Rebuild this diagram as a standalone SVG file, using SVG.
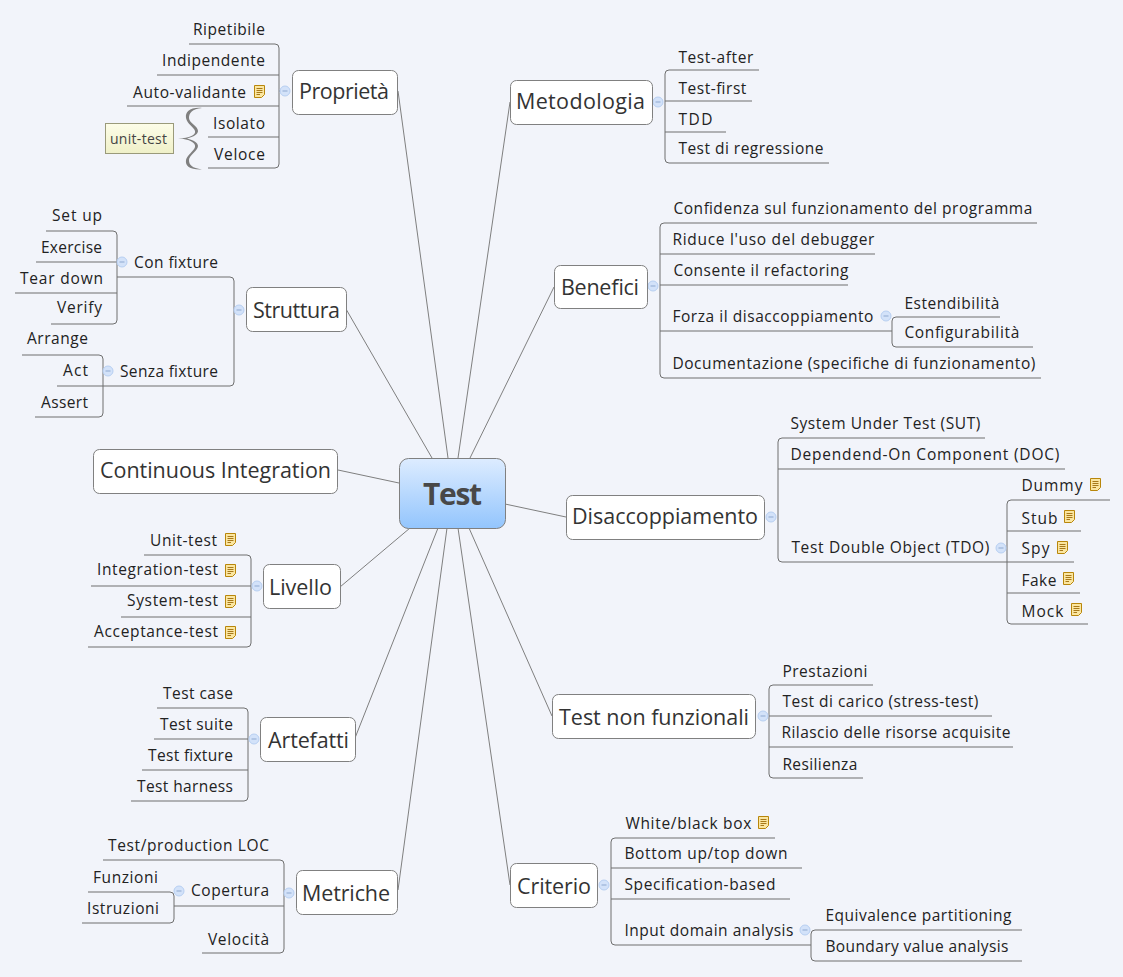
<svg xmlns="http://www.w3.org/2000/svg" width="1123" height="977" viewBox="0 0 1123 977">
<style>
text{font-family:"Open Sans","Noto Sans","Liberation Sans",sans-serif;fill:#222;font-size:15.5px}
.n rect{fill:#fff;stroke:#808080;stroke-width:1}
.n text{font-size:21.5px;fill:#333}
.c path{fill:none;stroke:#7f7f7f;stroke-width:1}
.s path{fill:none;stroke:#6f6f6f;stroke-width:1}
</style>
<defs>
<linearGradient id="rg" x1="0" y1="0" x2="0" y2="1"><stop offset="0" stop-color="#ddecff"/><stop offset="1" stop-color="#93c5fd"/></linearGradient>
<linearGradient id="yg" x1="0" y1="0" x2="0" y2="1"><stop offset="0" stop-color="#fdfde8"/><stop offset="1" stop-color="#eff0c8"/></linearGradient>
<g id="note"><path d="M.5.5H10.500V9.500L7.500 12.500H.5Z" fill="#fbe6a0" stroke="#b8860b"/><path d="M2.500 3.500H8.500M2.500 5.500H8.500M2.500 7.500H8.500M2.500 9.500H6" stroke="#a8791a" fill="none"/></g>
<g id="col"><circle r="5" fill="#d3e2f9" stroke="#b7cff2"/><path d="M-2.500 0H2.500" stroke="#8fa9d0"/></g>
</defs>
<rect width="1123" height="977" fill="#f2f4fa"/>
<g id="connectors" class="c">
<path d="M398 91L448 458M346 309L432 458M338 470L399 483M340 587L410 528M355 738L438 528M398 890L447 528M510 102L458 458M554 287L470 458M566 517L505 504M552 716L469 528M510 885L458 528"/>
</g>
<g id="subtopics" class="s">
<path d="M189 44H275Q279 44 279 48V164Q279 168 275 168H208M157 75H279M127 106H279M208 137H279M279 91H285"/>
<path d="M759 70H669Q665 70 665 74V159Q665 163 669 163H829M752 101H665M726 132H665"/>
<path d="M1037 223H664Q660 223 660 227V374Q660 378 664 378H1041M875 254H660M848 285H660M892 331H660"/>
<path d="M1000 317H896Q892 317 892 321V343Q892 347 896 347H1033"/>
<path d="M985 438H782Q778 438 778 442V558Q778 562 782 562H1007M1065 469H778"/>
<path d="M1110 500H1011Q1007 500 1007 504V620Q1007 624 1011 624H1088M1081 531H1007M1074 562H1007M1080 593H1007"/>
<path d="M873 685H773Q769 685 769 689V774Q769 778 773 778H863M992 716H769M1013 747H769"/>
<path d="M775 838H615Q611 838 611 842V941Q611 945 615 945H811M802 868H611M790 899H611"/>
<path d="M1022 930H815Q811 930 811 934V957Q811 961 815 961H1022"/>
<path d="M117 277H230Q234 277 234 281V382Q234 386 230 386H103"/>
<path d="M46 231H113Q117 231 117 235V320Q117 324 113 324H51M36 262H117M15 293H117"/>
<path d="M22 355H99Q103 355 103 359V413Q103 417 99 417H35M57 386H103"/>
<path d="M144 555H247Q251 555 251 559V643Q251 647 247 647H88M91 586H251M121 617H251"/>
<path d="M157 708H244Q248 708 248 712V797Q248 801 244 801H131M154 739H248M142 770H248"/>
<path d="M103 860H280Q284 860 284 864V949Q284 953 280 953H202M174 906H284"/>
<path d="M88 892H170Q174 892 174 896V919Q174 923 170 923H82"/>
</g>
<g id="toggles">
<use href="#col" x="285" y="91"/><use href="#col" x="658" y="102"/><use href="#col" x="653" y="286"/><use href="#col" x="886" y="316"/><use href="#col" x="771" y="517"/><use href="#col" x="1001" y="548"/><use href="#col" x="763" y="716"/><use href="#col" x="604" y="885"/><use href="#col" x="805" y="930"/><use href="#col" x="239" y="310"/><use href="#col" x="122" y="262"/><use href="#col" x="108" y="371"/><use href="#col" x="257" y="586"/><use href="#col" x="254" y="739"/><use href="#col" x="289" y="893"/><use href="#col" x="179" y="891"/>
</g>
<g id="notes">
<use href="#note" x="254" y="85"/><use href="#note" x="1090" y="478"/><use href="#note" x="1064" y="510"/><use href="#note" x="1057" y="541"/><use href="#note" x="1063" y="572"/><use href="#note" x="1071" y="603"/><use href="#note" x="225" y="533"/><use href="#note" x="225" y="564"/><use href="#note" x="225" y="595"/><use href="#note" x="225" y="626"/><use href="#note" x="758" y="816"/>
</g>
<g id="brace"><path d="M202 108C190 107 185 112 186 118C187 124 194 127 195 131C196 135 190 138 178 138.500C190 139 196 143 195 147C194 151 187 155 186 160C185 166 190 170 202 169.500C192 168 189 165 189 160C189 155 198 151 198 146C198 143 194 140 187 138.500C194 137 198 134 198 131C198 126 189 123 189 118C189 113 192 109 202 108Z" fill="#808080"/></g>
<g id="root" class="n"><rect x="399.500" y="458.500" width="106" height="70" rx="9" style="fill:url(#rg)"/><text x="423" y="505" textLength="59" style="font-size:30px;font-weight:700;fill:#484848">Test</text></g>
<g id="proprieta" class="n"><rect x="292.500" y="70.500" width="105" height="44" rx="6"/><text x="299" y="99" textLength="90">Proprietà</text></g>
<g id="metodologia" class="n"><rect x="510.500" y="80.500" width="142" height="44" rx="6"/><text x="516" y="109" textLength="129">Metodologia</text></g>
<g id="benefici" class="n"><rect x="554.500" y="265.500" width="93" height="43" rx="6"/><text x="561" y="295" textLength="78">Benefici</text></g>
<g id="struttura" class="n"><rect x="246.500" y="287.500" width="100" height="44" rx="6"/><text x="253" y="318" textLength="87">Struttura</text></g>
<g id="ci" class="n"><rect x="93.500" y="449.500" width="244" height="44" rx="6"/><text x="100" y="478" textLength="231">Continuous Integration</text></g>
<g id="livello" class="n"><rect x="263.500" y="564.500" width="77" height="44" rx="6"/><text x="269" y="595" textLength="63">Livello</text></g>
<g id="artefatti" class="n"><rect x="260.500" y="717.500" width="95" height="44" rx="6"/><text x="268" y="748" textLength="81">Artefatti</text></g>
<g id="metriche" class="n"><rect x="296.500" y="870.500" width="101" height="44" rx="6"/><text x="302" y="901" textLength="88">Metriche</text></g>
<g id="disaccoppiamento" class="n"><rect x="566.500" y="495.500" width="198" height="44" rx="6"/><text x="572" y="524" textLength="186">Disaccoppiamento</text></g>
<g id="nonfunz" class="n"><rect x="552.500" y="694.500" width="203" height="44" rx="6"/><text x="559" y="725" textLength="190">Test non funzionali</text></g>
<g id="criterio" class="n"><rect x="510.500" y="863.500" width="87" height="44" rx="6"/><text x="517" y="894" textLength="74">Criterio</text></g>
<g id="label-note"><rect x="105.500" y="123.500" width="68" height="30" fill="url(#yg)" stroke="#9a9a7a"/><text x="110" y="144" textLength="57" style="font-size:14px;fill:#444">unit-test</text></g>
<g id="labels-right" transform="translate(0.400,0.600)">
<text x="678" y="62" textLength="75">Test-after</text>
<text x="678" y="93" textLength="68">Test-first</text>
<text x="678" y="124" textLength="34">TDD</text>
<text x="678" y="153" textLength="145">Test di regressione</text>
<text x="673" y="213" textLength="359">Confidenza sul funzionamento del programma</text>
<text x="672" y="244" textLength="202">Riduce l'uso del debugger</text>
<text x="673" y="275" textLength="175">Consente il refactoring</text>
<text x="672" y="321" textLength="201">Forza il disaccoppiamento</text>
<text x="904" y="308" textLength="95">Estendibilità</text>
<text x="904" y="337" textLength="115">Configurabilità</text>
<text x="672" y="368" textLength="363">Documentazione (specifiche di funzionamento)</text>
<text x="790" y="428" textLength="190">System Under Test (SUT)</text>
<text x="790" y="459" textLength="269">Dependend-On Component (DOC)</text>
<text x="791" y="552" textLength="198">Test Double Object (TDO)</text>
<text x="1021" y="490" textLength="61">Dummy</text>
<text x="1021" y="523" textLength="36">Stub</text>
<text x="1021" y="553" textLength="28">Spy</text>
<text x="1021" y="585" textLength="35">Fake</text>
<text x="1021" y="616" textLength="42">Mock</text>
<text x="782" y="676" textLength="85">Prestazioni</text>
<text x="782" y="706" textLength="196">Test di carico (stress-test)</text>
<text x="781" y="737" textLength="229">Rilascio delle risorse acquisite</text>
<text x="782" y="769" textLength="75">Resilienza</text>
<text x="625" y="828" textLength="126">White/black box</text>
<text x="624" y="858" textLength="163">Bottom up/top down</text>
<text x="624" y="889" textLength="151">Specification-based</text>
<text x="624" y="935" textLength="169">Input domain analysis</text>
<text x="825" y="920" textLength="186">Equivalence partitioning</text>
<text x="825" y="951" textLength="183">Boundary value analysis</text>
</g>
<g id="labels-left">
<text x="193" y="35" textLength="72">Ripetibile</text>
<text x="162" y="66" textLength="103">Indipendente</text>
<text x="133" y="98" textLength="113">Auto-validante</text>
<text x="213" y="129" textLength="52">Isolato</text>
<text x="214" y="160" textLength="51">Veloce</text>
<text x="52" y="221" textLength="50">Set up</text>
<text x="41" y="253" textLength="61">Exercise</text>
<text x="20" y="284" textLength="83">Tear down</text>
<text x="57" y="313" textLength="45">Verify</text>
<text x="134" y="268" textLength="84">Con fixture</text>
<text x="120" y="377" textLength="98">Senza fixture</text>
<text x="27" y="344" textLength="61">Arrange</text>
<text x="63" y="376" textLength="25">Act</text>
<text x="41" y="408" textLength="47">Assert</text>
<text x="150" y="546" textLength="67">Unit-test</text>
<text x="97" y="575" textLength="121">Integration-test</text>
<text x="127" y="606" textLength="91">System-test</text>
<text x="94" y="637" textLength="124">Acceptance-test</text>
<text x="163" y="699" textLength="70">Test case</text>
<text x="160" y="730" textLength="73">Test suite</text>
<text x="148" y="761" textLength="85">Test fixture</text>
<text x="137" y="792" textLength="96">Test harness</text>
<text x="108" y="851" textLength="161">Test/production LOC</text>
<text x="191" y="896" textLength="78">Copertura</text>
<text x="208" y="945" textLength="61">Velocità</text>
<text x="93" y="883" textLength="65">Funzioni</text>
<text x="87" y="914" textLength="72">Istruzioni</text>
</g>
</svg>
